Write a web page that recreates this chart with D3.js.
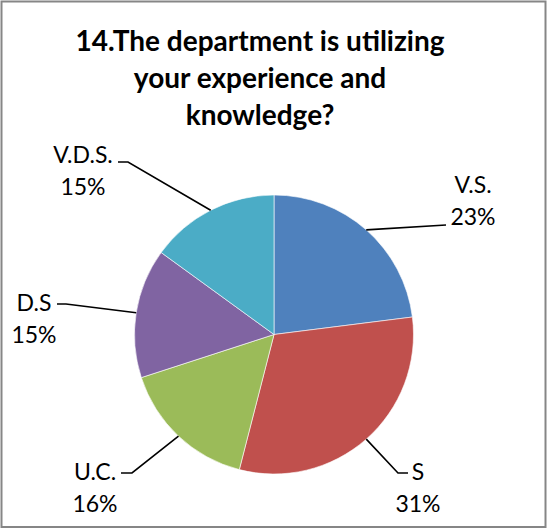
<!DOCTYPE html>
<html>
<head>
<meta charset="utf-8">
<script src="https://cdn.jsdelivr.net/npm/d3@7"></script>
<style>
  html, body { margin: 0; padding: 0; background: #fff; }
  svg { display: block; }
</style>
</head>
<body>
<svg id="chart" width="548" height="529"></svg>
<script>
// ---- data ----
const categories = ["V.S.", "S", "U.C.", "D.S", "V.D.S."];
const values = [23, 31, 16, 15, 15];
const percentLabels = ["23%", "31%", "16%", "15%", "15%"];
const colors = ["#4F81BD", "#C0504D", "#9BBB59", "#8064A2", "#4BACC6"];
const titleLines = ["14.The department is utilizing", "your experience and", "knowledge?"];

// ---- label layout (positions only) ----
const labelLayout = {
  "V.S.":   { x: 473, y: 193, path: [[446, 225]] },
  "S":      { x: 418, y: 480, path: [[398, 473], [408, 473]] },
  "U.C.":   { x: 95,  y: 480, path: [[132, 473], [121, 473]] },
  "D.S":    { x: 34,  y: 311, path: [[66, 304], [57, 304]] },
  "V.D.S.": { x: 83,  y: 163, path: [[128, 162], [118, 162]] }
};

const W = 548, H = 529;
const cx = 274, cy = 334.5, r = 139.5;
const svg = d3.select("#chart");

// frame
svg.append("rect")
  .attr("x", 1.5).attr("y", 1.5)
  .attr("width", W - 4).attr("height", H - 3.5)
  .attr("fill", "#fff").attr("stroke", "#868686").attr("stroke-width", 2);

// title
const title = svg.append("text")
  .attr("text-anchor", "middle")
  .attr("font-family", "Lato, 'Open Sans', sans-serif")
  .attr("font-weight", "bold")
  .attr("font-size", 28)
  .attr("fill", "#000");
titleLines.forEach((t, i) => {
  title.append("tspan").attr("x", 260).attr("y", 51 + i * 37).text(t);
});

// pie
const data = categories.map((c, i) => ({ name: c, value: values[i], pct: percentLabels[i], color: colors[i] }));
const pie = d3.pie().sort(null).value(d => d.value);
const arcs = pie(data);
const arc = d3.arc().innerRadius(0).outerRadius(r);

const g = svg.append("g").attr("transform", `translate(${cx},${cy})`);
g.selectAll("path.slice")
  .data(arcs)
  .join("path")
  .attr("class", "slice")
  .attr("d", arc)
  .attr("fill", d => d.data.color)
  .attr("stroke", "#ffffff")
  .attr("stroke-width", 0.6)
  .attr("stroke-linejoin", "round");

// leader lines
arcs.forEach(a => {
  const mid = (a.startAngle + a.endAngle) / 2;
  const sx = cx + r * Math.sin(mid);
  const sy = cy - r * Math.cos(mid);
  const pts = [[sx, sy]].concat(labelLayout[a.data.name].path);
  svg.append("path")
    .attr("d", d3.line()(pts))
    .attr("fill", "none")
    .attr("stroke", "#000")
    .attr("stroke-width", 1.6);
});

// labels
arcs.forEach(a => {
  const L = labelLayout[a.data.name];
  const t = svg.append("text")
    .attr("text-anchor", "middle")
    .attr("font-family", "Lato, 'Open Sans', sans-serif")
    .attr("font-size", 23)
    .attr("fill", "#000");
  t.append("tspan").attr("x", L.x).attr("y", L.y).text(a.data.name);
  t.append("tspan").attr("x", L.x).attr("y", L.y + 32).text(a.data.pct);
});
</script>
</body>
</html>
